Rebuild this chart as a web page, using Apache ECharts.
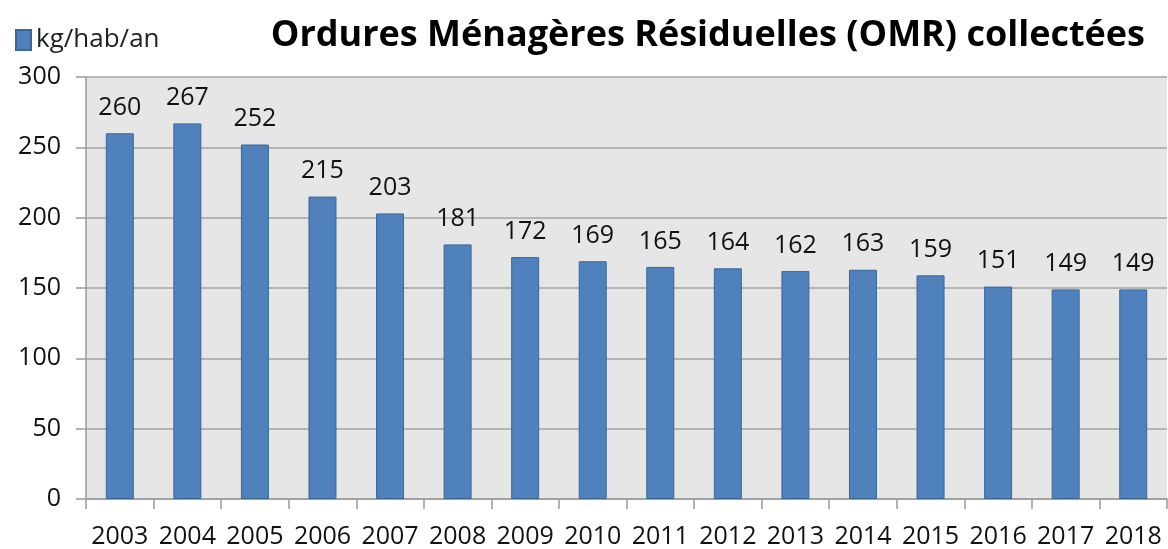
<!DOCTYPE html>
<html>
<head>
<meta charset="utf-8">
<script src="https://cdn.jsdelivr.net/npm/echarts@6/dist/echarts.min.js"></script>
<style>
  html, body { margin: 0; padding: 0; background: #fff; }
  #chart { width: 1168px; height: 549px; }
</style>
</head>
<body>
<div id="chart"></div>
<script>
const years = ['2003', '2004', '2005', '2006', '2007', '2008', '2009', '2010',
  '2011', '2012', '2013', '2014', '2015', '2016', '2017', '2018']
const omr = [260, 267, 252, 215, 203, 181, 172, 169, 165, 164, 162, 163, 159, 151, 149, 149]

const FONT = '"Open Sans", "DejaVu Sans", sans-serif'

const chart = echarts.init(document.getElementById('chart'))
chart.setOption({
  animation: false,
  title: {
    text: 'Ordures Ménagères Résiduelles (OMR) collectées',
    right: 18,
    top: 13,
    textStyle: { fontFamily: FONT, fontWeight: 'bold', fontSize: 36, color: '#000' },
  },
  legend: {
    left: 10,
    top: 22,
    icon: 'rect',
    itemWidth: 15,
    itemHeight: 20,
    itemGap: 8,
    textStyle: { fontFamily: FONT, fontSize: 26, color: '#222' },
    data: ['kg/hab/an'],
  },
  grid: { left: 86, right: 1, top: 77, bottom: 49, show: true, backgroundColor: '#e6e6e6', borderWidth: 0 },
  xAxis: {
    type: 'category',
    data: years,
    axisLine: { show: true, lineStyle: { color: '#9a9a9a', width: 1.5 } },
    axisTick: { show: true, length: 10, lineStyle: { color: '#9a9a9a', width: 1.5 } },
    axisLabel: { fontFamily: FONT, fontSize: 25, color: '#111', margin: 25, interval: 0 },
  },
  yAxis: {
    type: 'value',
    min: 0,
    max: 300,
    interval: 50,
    axisLine: { show: true, lineStyle: { color: '#9a9a9a', width: 1.5 } },
    axisTick: { show: true, length: 10, lineStyle: { color: '#9a9a9a', width: 1.5 } },
    axisLabel: { fontFamily: FONT, fontSize: 25, color: '#111', margin: 25 },
    splitLine: { show: true, lineStyle: { color: '#a3a3a3', width: 1.5 } },
  },
  series: [{
    name: 'kg/hab/an',
    type: 'bar',
    data: omr,
    barWidth: 28,
    itemStyle: { color: '#4f81bd', borderColor: '#3b6798', borderWidth: 1 },
    label: {
      show: true,
      position: 'top',
      distance: 13,
      fontFamily: FONT,
      fontSize: 25,
      color: '#111',
    },
  }],
})
</script>
</body>
</html>
